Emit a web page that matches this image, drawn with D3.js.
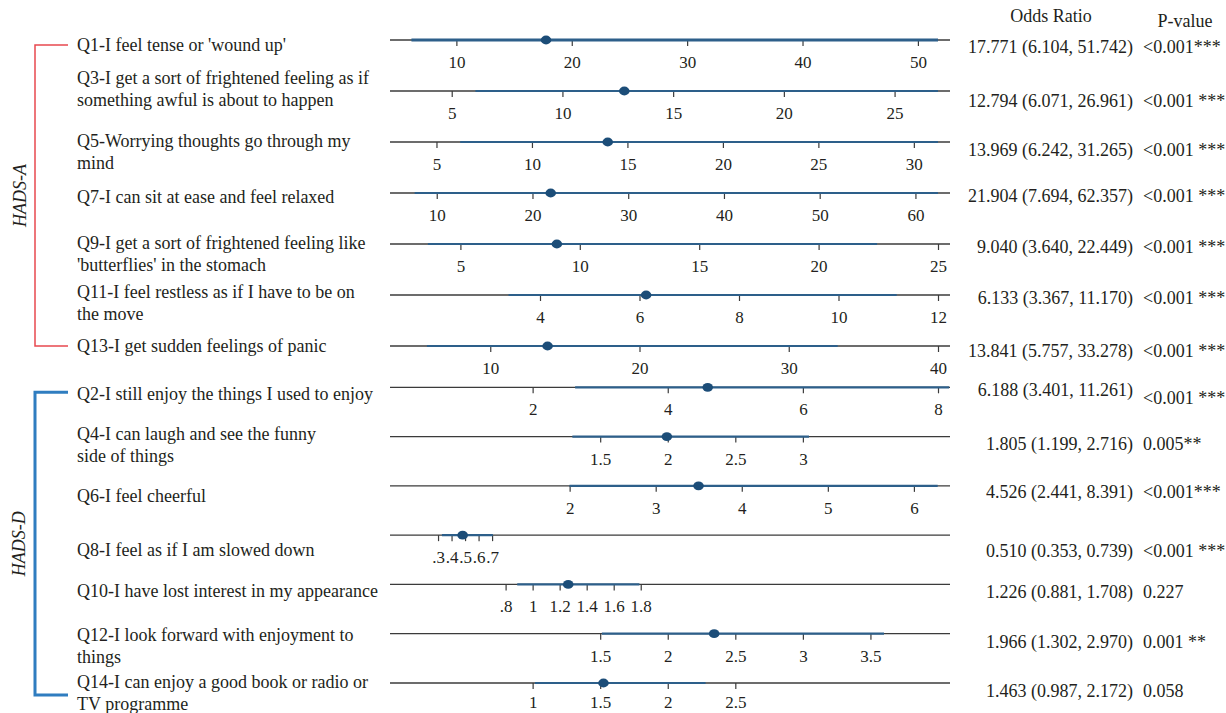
<!DOCTYPE html>
<html>
<head>
<meta charset="utf-8">
<script src="https://cdn.jsdelivr.net/npm/d3@7"></script>
<style>
  html, body { margin: 0; padding: 0; background: #fff; }
  svg text { font-family: "Liberation Serif", "Times New Roman", serif; fill: #231f20; }
</style>
</head>
<body>
<svg id="chart" width="1226" height="713"></svg>
<script>
// ---- data -------------------------------------------------------------
const itemIds = ["Q1", "Q3", "Q5", "Q7", "Q9", "Q11", "Q13",
                 "Q2", "Q4", "Q6", "Q8", "Q10", "Q12", "Q14"];

const subscale = ["HADS-A", "HADS-A", "HADS-A", "HADS-A", "HADS-A", "HADS-A", "HADS-A",
                  "HADS-D", "HADS-D", "HADS-D", "HADS-D", "HADS-D", "HADS-D", "HADS-D"];

const questionText = [
  ["Q1-I feel tense or 'wound up'"],
  ["Q3-I get a sort of frightened feeling as if", "something awful is about to happen"],
  ["Q5-Worrying thoughts go through my", "mind"],
  ["Q7-I can sit at ease and feel relaxed"],
  ["Q9-I get a sort of frightened feeling like", "'butterflies' in the stomach"],
  ["Q11-I feel restless as if I have to be on", "the move"],
  ["Q13-I get sudden feelings of panic"],
  ["Q2-I still enjoy the things I used to enjoy"],
  ["Q4-I can laugh and see the funny", "side of things"],
  ["Q6-I feel cheerful"],
  ["Q8-I feel as if I am slowed down"],
  ["Q10-I have lost interest in my appearance"],
  ["Q12-I look forward with enjoyment to", "things"],
  ["Q14-I can enjoy a good book or radio or", "TV programme"]
];

const oddsRatio = [17.771, 12.794, 13.969, 21.904, 9.040, 6.133, 13.841,
                   6.188, 1.805, 4.526, 0.510, 1.226, 1.966, 1.463];
const ciLower   = [6.104, 6.071, 6.242, 7.694, 3.640, 3.367, 5.757,
                   3.401, 1.199, 2.441, 0.353, 0.881, 1.302, 0.987];
const ciUpper   = [51.742, 26.961, 31.265, 62.357, 22.449, 11.170, 33.278,
                   11.261, 2.716, 8.391, 0.739, 1.708, 2.970, 2.172];
const pText     = ["<0.001***", "<0.001 ***", "<0.001 ***", "<0.001 ***", "<0.001 ***", "<0.001 ***", "<0.001 ***",
                   "<0.001 ***", "0.005**", "<0.001***", "<0.001 ***", "0.227", "0.001 **", "0.058"];

// tick values of each item's own axis
const tickValues = [
  [10, 20, 30, 40, 50],
  [5, 10, 15, 20, 25],
  [5, 10, 15, 20, 25, 30],
  [10, 20, 30, 40, 50, 60],
  [5, 10, 15, 20, 25],
  [4, 6, 8, 10, 12],
  [10, 20, 30, 40],
  [2, 4, 6, 8],
  [1.5, 2, 2.5, 3],
  [2, 3, 4, 5, 6],
  [0.3, 0.4, 0.5, 0.6, 0.7],
  [0.8, 1, 1.2, 1.4, 1.6, 1.8],
  [1.5, 2, 2.5, 3, 3.5],
  [1, 1.5, 2, 2.5]
];

// upper end of each tick axis (lower end is 0)
const axisMax = [51.742, 26.961, 31.265, 62.357, 25, 12, 40,
                 8, 4, 6.28, 4, 4, 4, 4];

// value extent of the estimate scale across the full axis line
// (null: the estimate shares the tick axis)
const markExtent = [null, null, null, null, null, null, null,
                    [-0.49, 11.28], [0.03, 3.62], [-0.46, 8.59], [-0.04, 4.20],
                    [0.02, 3.81], [0.05, 3.36], [-0.02, 3.87]];

// ---- layout -----------------------------------------------------------
const W = 1226, H = 713;
const lineX = [390, 950];
const tickRange = { "HADS-A": [341, 938], "HADS-D": [397.5, 938] };
const rowRange  = { "HADS-A": [40, 346], "HADS-D": [387.3, 683] };
const questionShift = [5, -13, -1, 4, -1, -3, 0, 6, -3, 10, 15, 6, 1, -1];
const valueShift    = [7, 10, 8, 3, 3, 3, 5, 2, 7, 6, 16, 7, 8, 8];
const pShift        = [7, 10, 8, 3, 3, 3, 5, 10, 7, 6, 16, 7, 8, 8];
const lineGap = 22;
const fontSize = 18;

const colors = {
  axis: "#3b3b3b",
  ci: "#2d5f8a",
  dot: "#1c4d78",
  bracketA: "#e8484f",
  bracketD: "#2f7dc0"
};

const svg = d3.select("#chart");
svg.append("rect").attr("width", W).attr("height", H).attr("fill", "#fff");

const yScales = {};
["HADS-A", "HADS-D"].forEach(g => {
  yScales[g] = d3.scalePoint()
    .domain(itemIds.filter((id, i) => subscale[i] === g))
    .range(rowRange[g]);
});

const fmtTick = d => String(d).replace(/^0\./, ".");
const fmtOR = (v, lo, hi) => `${v.toFixed(3)} (${lo.toFixed(3)}, ${hi.toFixed(3)})`;

const rows = itemIds.map((id, i) => {
  const g = subscale[i];
  const tickScale = d3.scaleLinear().domain([0, axisMax[i]]).range(tickRange[g]);
  const markScale = markExtent[i]
    ? d3.scaleLinear().domain(markExtent[i]).range(lineX)
    : tickScale;
  return { id, i, g, y: yScales[g](id), tickScale, markScale };
});

const plot = svg.append("g");

rows.forEach(r => {
  const row = plot.append("g").attr("class", "row");
  const last = r.i === itemIds.length - 1;

  // full-width axis line
  row.append("line")
    .attr("x1", lineX[0]).attr("x2", lineX[1])
    .attr("y1", r.y).attr("y2", r.y)
    .attr("stroke", colors.axis).attr("stroke-width", 1.3);

  // item axis with its own ticks
  const axis = d3.axisBottom(r.tickScale)
    .tickValues(tickValues[r.i])
    .tickFormat(fmtTick)
    .tickSize(6)
    .tickPadding(last ? 7 : 10);
  const ag = row.append("g").attr("transform", `translate(0,${r.y})`).call(axis);
  ag.select(".domain").remove();
  ag.selectAll(".tick line").attr("stroke", colors.axis).attr("stroke-width", 1.2);
  ag.selectAll(".tick text")
    .attr("font-size", 17)
    .attr("font-family", "Liberation Serif, serif")
    .attr("fill", "#231f20");

  // confidence interval
  row.append("line")
    .attr("x1", r.markScale(ciLower[r.i]))
    .attr("x2", r.markScale(ciUpper[r.i]))
    .attr("y1", r.y).attr("y2", r.y)
    .attr("stroke", colors.ci).attr("stroke-width", r.i === 0 ? 2.8 : 2.2);

  // point estimate
  row.append("ellipse")
    .attr("cx", r.markScale(oddsRatio[r.i]))
    .attr("cy", r.y)
    .attr("rx", 5.3).attr("ry", 4.4)
    .attr("fill", colors.dot);

  // question text
  const qt = row.append("text")
    .attr("x", 77)
    .attr("y", r.y + questionShift[r.i])
    .attr("font-size", fontSize);
  questionText[r.i].forEach((t, k) => {
    qt.append("tspan")
      .attr("x", 77)
      .attr("y", r.y + questionShift[r.i] + k * lineGap)
      .attr("dy", "0.35em")
      .text(t);
  });

  // odds ratio with CI
  row.append("text")
    .attr("x", 1133)
    .attr("y", r.y + valueShift[r.i])
    .attr("dy", "0.35em")
    .attr("text-anchor", "end")
    .attr("font-size", fontSize)
    .text(fmtOR(oddsRatio[r.i], ciLower[r.i], ciUpper[r.i]));

  // p-value
  row.append("text")
    .attr("x", 1143)
    .attr("y", r.y + pShift[r.i])
    .attr("dy", "0.35em")
    .attr("font-size", fontSize)
    .text(pText[r.i]);
});

// column headers
svg.append("text").attr("x", 1051).attr("y", 16).attr("dy", "0.35em")
  .attr("text-anchor", "middle").attr("font-size", fontSize).text("Odds Ratio");
svg.append("text").attr("x", 1185).attr("y", 21).attr("dy", "0.35em")
  .attr("text-anchor", "middle").attr("font-size", fontSize).text("P-value");

// subscale brackets
const bracket = (g, top, bottom, color, width, labelX) => {
  svg.append("path")
    .attr("d", `M68,${top}H35V${bottom}H68`)
    .attr("fill", "none").attr("stroke", color).attr("stroke-width", width);
  svg.append("text")
    .attr("transform", `translate(${labelX},${(top + bottom) / 2}) rotate(-90)`)
    .attr("text-anchor", "middle")
    .attr("dy", "0.35em")
    .attr("font-size", fontSize)
    .attr("font-style", "italic")
    .text(g);
};
const yA = yScales["HADS-A"], yD = yScales["HADS-D"];
bracket("HADS-A", yA("Q1") + questionShift[0], yA("Q13") + questionShift[6], colors.bracketA, 1.5, 20);
bracket("HADS-D", yD("Q2") + questionShift[7] - 1, yD("Q14") + 12, colors.bracketD, 3, 19);
</script>
</body>
</html>
